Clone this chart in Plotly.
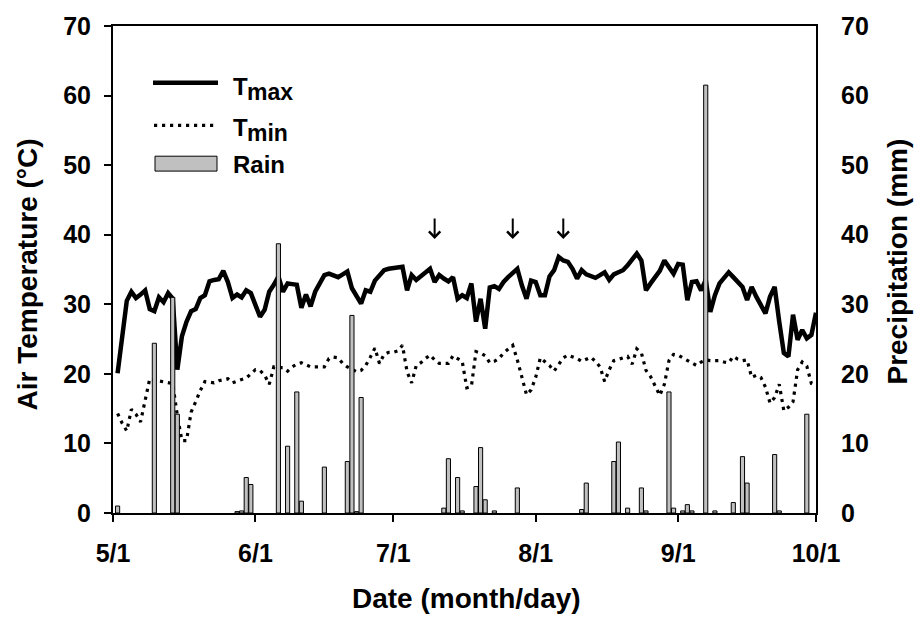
import plotly.graph_objects as go

# ---- data (day index: 0 = 5/1) ----
tmax = [20.1, 25.9, 30.5, 31.8, 30.9, 31.4, 32.0, 29.3, 29.0, 31.0,
        30.3, 31.6, 30.8, 20.6, 25.4, 27.5, 29.0, 29.3, 30.9, 31.3,
        33.3, 33.5, 33.6, 34.8, 33.2, 30.9, 31.4, 31.0, 32.0, 31.6,
        30.0, 28.2, 29.2, 31.8, 32.8, 34.0, 31.8, 33.0, 32.9, 32.8,
        29.5, 31.4, 29.7, 31.8, 33.0, 34.2, 34.4, 34.2, 33.9, 34.3,
        34.7, 32.3, 31.2, 30.1, 32.0, 31.8, 33.4, 34.2, 34.9, 35.1,
        35.2, 35.3, 35.4, 32.0, 34.2, 33.5, 34.0, 34.5, 35.1, 33.2,
        34.2, 33.7, 33.3, 33.9, 30.8, 31.3, 30.9, 33.0, 27.5, 30.8,
        26.5, 32.4, 32.6, 32.2, 33.2, 33.9, 34.6, 35.1, 32.7, 30.8,
        33.4, 33.2, 31.3, 31.3, 34.0, 34.9, 36.8, 36.3, 36.1, 35.1,
        33.7, 34.9, 34.3, 34.0, 33.8, 34.2, 34.6, 33.5, 34.3, 34.6,
        34.9, 35.6, 36.5, 37.3, 36.3, 32.0, 33.0, 34.0, 34.8, 36.3,
        35.3, 34.4, 35.8, 35.7, 30.6, 33.2, 33.3, 32.0, 33.5, 28.9,
        31.3, 33.0, 33.8, 34.6, 33.9, 33.2, 32.5, 30.6, 32.5, 31.1,
        29.9, 28.7, 31.1, 32.5, 27.5, 23.0, 22.5, 28.5, 24.9, 26.3,
        25.1, 25.6, 28.8]

tmin = [14.3, 12.9, 11.8, 14.9, 14.2, 13.1, 16.2, 19.3, 19.1, 19.0,
        18.9, 18.8, 18.6, 14.0, 10.4, 10.4, 14.5, 16.0, 17.6, 18.9,
        18.8, 18.7, 19.0, 19.2, 19.3, 18.7, 19.0, 19.2, 19.4, 20.0,
        20.6, 20.5, 19.8, 18.5, 21.0, 20.9, 20.9, 20.4, 21.0, 21.4,
        21.6, 21.3, 21.0, 21.0, 21.0, 21.0, 22.2, 22.4, 22.3, 21.5,
        21.0, 20.6, 20.3, 20.5, 21.2, 22.4, 23.7, 21.5, 22.8, 23.1,
        23.1, 23.3, 24.1, 20.3, 18.7, 21.2, 21.6, 22.2, 22.7, 22.0,
        21.5, 21.5, 21.5, 22.6, 22.2, 21.8, 18.0, 18.2, 23.2, 23.0,
        22.6, 21.6, 21.8, 22.2, 23.0, 23.5, 24.1, 22.0, 19.5, 17.0,
        17.7, 19.5, 22.3, 21.8, 21.2, 20.4, 21.4, 22.3, 22.7, 22.5,
        22.2, 21.8, 22.1, 22.4, 21.8, 21.0, 18.9, 20.6, 21.9, 22.1,
        22.3, 22.5, 21.4, 23.6, 23.0, 20.5, 19.6, 18.2, 16.9, 18.5,
        21.9, 22.8, 22.7, 22.3, 21.9, 21.5, 21.2, 21.7, 22.0, 21.9,
        21.9, 21.9, 21.7, 21.6, 22.5, 22.1, 21.9, 22.0, 19.5, 19.8,
        19.5, 18.1, 15.8, 16.6, 18.5, 14.7, 15.2, 16.0, 20.6, 21.7,
        21.1, 18.6, 18.3]

temp_days = list(range(1, len(tmax) + 1))

rain_days = [1, 9, 13, 14, 27, 28, 29, 30, 36, 38, 40, 41, 46, 51, 52, 53, 54,
             72, 73, 75, 76, 79, 80, 81, 83, 88, 102, 103, 109, 110, 112, 115,
             116, 121, 122, 124, 125, 126, 129, 131, 135, 137, 138, 144, 145, 151]
rain_mm = [1.0, 24.4, 31.0, 14.2, 0.2, 0.3, 5.1, 4.1, 38.7, 9.6, 17.4, 1.7, 6.6,
           7.4, 28.4, 0.2, 16.6, 0.7, 7.8, 5.1, 0.3, 3.8, 9.4, 1.9, 0.3, 3.6,
           0.5, 4.3, 7.4, 10.2, 0.7, 3.6, 0.3, 17.4, 0.7, 0.3, 1.2, 0.3, 61.5,
           0.3, 1.5, 8.1, 4.3, 8.4, 0.3, 14.2]

arrow_days = [70, 87, 98]

tick_days = [0, 31, 61, 92, 123, 153]
tick_labels = ["5/1", "6/1", "7/1", "8/1", "9/1", "10/1"]
y_ticks = [0, 10, 20, 30, 40, 50, 60, 70]

FONT = "Liberation Sans, Arial, sans-serif"

fig = go.Figure()
fig.add_trace(go.Scatter(x=temp_days, y=tmax, mode="lines", name="Tmax",
                         line=dict(color="black", width=4.5), showlegend=False))
fig.add_trace(go.Scatter(x=temp_days, y=tmin, mode="lines", name="Tmin",
                         line=dict(color="black", width=3.2, dash="3.2px,4.8px"),
                         showlegend=False))
fig.add_trace(go.Bar(x=rain_days, y=rain_mm, name="Rain", yaxis="y2", width=0.9,
                     marker=dict(color="#c0c0c0", line=dict(color="black", width=1)),
                     showlegend=False))

W, H = 919, 624
ML, MR, MT, MB = 113, 103, 23, 111
PW, PH = W - ML - MR, H - MT - MB


def px(xp):
    return (xp - ML) / PW


def py(yp):
    return (H - MB - yp) / PH


axis_common = dict(showgrid=False, zeroline=False, showline=True, linecolor="black",
                   linewidth=2, tickfont=dict(family=FONT, size=25, color="black", weight="bold"))

fig.update_layout(
    width=W, height=H, margin=dict(l=ML, r=MR, t=MT, b=MB),
    plot_bgcolor="white", paper_bgcolor="white",
    font=dict(family=FONT, color="black"),
    showlegend=False,
    xaxis=dict(range=[0, 153], tickmode="array", tickvals=tick_days, ticktext=tick_labels,
               ticks="outside", ticklen=7, tickwidth=2, tickcolor="black", mirror=True,
               ticklabelstandoff=10, **axis_common),
    yaxis=dict(range=[0, 70], tickmode="array", tickvals=y_ticks, ticks="outside",
               ticklen=7, tickwidth=2, tickcolor="black", ticklabelstandoff=8, **axis_common),
    yaxis2=dict(range=[0, 70], tickmode="array", tickvals=y_ticks, overlaying="y",
                side="right", ticks="", ticklabelstandoff=18, **axis_common),
)

ann = []
# axis titles
ann.append(dict(text="Air Temperature (°C)", xref="paper", yref="paper", x=0, y=py(273),
                xshift=-86, textangle=-90, showarrow=False, xanchor="center", yanchor="middle",
                font=dict(family=FONT, size=28, color="black", weight="bold")))
ann.append(dict(text="Precipitation (mm)", xref="paper", yref="paper", x=1, y=py(260),
                xshift=82, textangle=-90, showarrow=False, xanchor="center", yanchor="middle",
                font=dict(family=FONT, size=28, color="black", weight="bold")))
ann.append(dict(text="Date (month/day)", xref="paper", yref="paper", x=px(466), y=0,
                yshift=-85, showarrow=False, xanchor="center", yanchor="middle",
                font=dict(family=FONT, size=28, color="black", weight="bold")))
# arrows
for d in arrow_days:
    ann.append(dict(x=d, y=39.4, xref="x", yref="y", text="", showarrow=True,
                    ax=0, ay=-22, arrowhead=4, arrowsize=1.1, arrowwidth=2,
                    arrowcolor="black", standoff=0))

# custom legend
lf = dict(family=FONT, size=24, color="black", weight="bold")
lsub = dict(family=FONT, size=23, color="black", weight="bold")
shapes = [
    dict(type="line", xref="paper", yref="paper", x0=px(153), x1=px(218), y0=py(80), y1=py(80),
         line=dict(color="black", width=4.5)),
    dict(type="line", xref="paper", yref="paper", x0=px(154), x1=px(218), y0=py(123), y1=py(123),
         line=dict(color="black", width=3.2, dash="3.2px,4.8px")),
    dict(type="rect", xref="paper", yref="paper", x0=px(155), x1=px(217), y0=py(169), y1=py(154),
         fillcolor="#c0c0c0", line=dict(color="black", width=1)),
]
ann.append(dict(text="T", xref="paper", yref="paper", x=px(231), y=py(84), showarrow=False,
                xanchor="left", yanchor="middle", font=lf))
ann.append(dict(text="max", xref="paper", yref="paper", x=px(245), y=py(89), showarrow=False,
                xanchor="left", yanchor="middle", font=lsub))
ann.append(dict(text="T", xref="paper", yref="paper", x=px(231), y=py(125), showarrow=False,
                xanchor="left", yanchor="middle", font=lf))
ann.append(dict(text="min", xref="paper", yref="paper", x=px(245), y=py(131), showarrow=False,
                xanchor="left", yanchor="middle", font=lsub))
ann.append(dict(text="Rain", xref="paper", yref="paper", x=px(231), y=py(162), showarrow=False,
                xanchor="left", yanchor="middle", font=lf))

fig.update_layout(annotations=ann, shapes=shapes)
fig.write_html("out.html", config={"displayModeBar": False},
               post_script="document.body.style.margin='0';document.body.style.padding='0';")
